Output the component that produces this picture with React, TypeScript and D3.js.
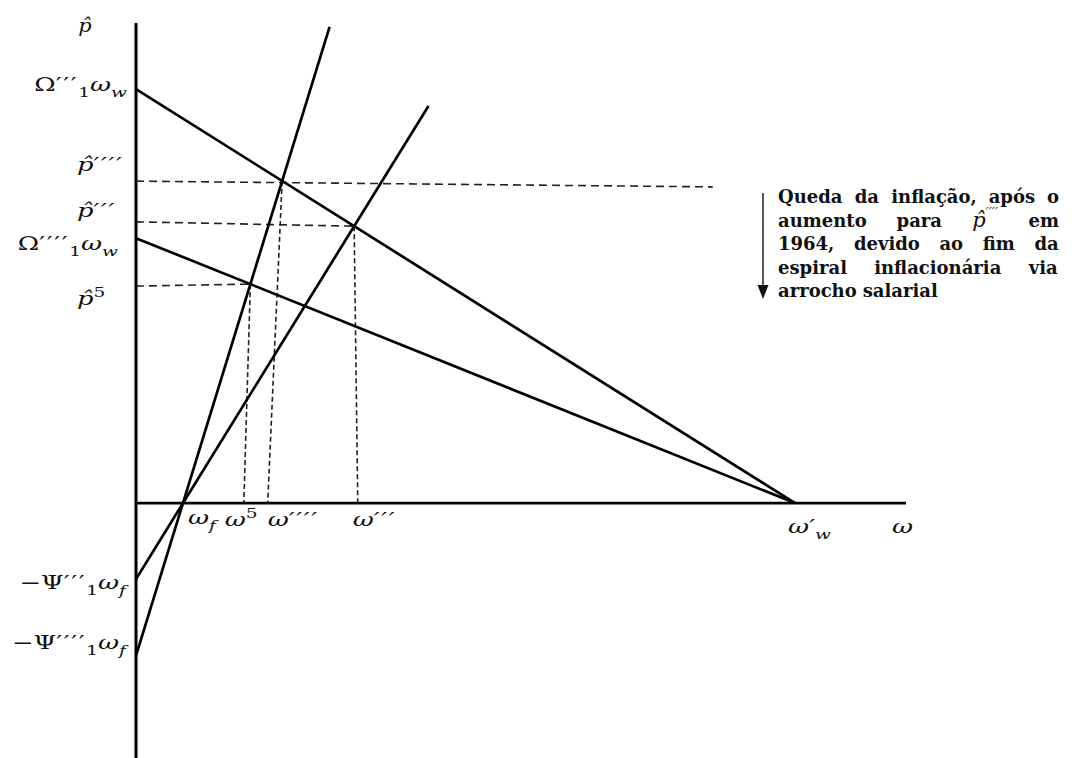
import React, { useEffect, useRef } from "react";
import * as d3 from "d3";

const W = 1075;
const H = 758;

// Model units for the two axes
const omegaDomain = [0, 100];
const pDomain = [-53.2, 100];

// Wage curves: p̂ = Ω·ω_w·(1 − ω/ω'_w)
const wageNames = ["Ω'''", "Ω''''"];
const wageIntercepts = [86.4, 55.3];
const omegaW = 85.6;

// Profit curves: p̂ = Ψ·(ω − ω_f)
const profitNames = ["Ψ'''", "Ψ''''"];
const profitSlopes = [2.6, 5.22];
const profitTops = [82.9, 99.4];
const omegaF = 6.1;

// Guide ticks on the axes
const pTickNames = ["p''''", "p'''", "p5"];
const pTickValues = [67.2, 58.7, 45.3];
const omegaTickNames = ["ω''''", "ω'''", "ω5"];
const omegaTickValues = [17.1, 28.8, 14.0];
// which wage / profit curve meets at each guide
const guideWage = [0, 0, 1];
const guideProfit = [1, 0, 1];
// the p̂'''' guide runs on towards the note
const longGuideEnd = [74.9, 66.0];

const noteLines = [
  "Queda da inflação, após o",
  "aumento para @ em",
  "1964, devido ao fim da",
  "espiral inflacionária via",
  "arrocho salarial",
];

type Part = { t: string; it?: boolean; sub?: boolean; sup?: boolean; pr?: boolean };

const P = "\u2032";
const HAT = "p\u0302";
const primes = (n: number) => P.repeat(n);

const LabelText = ({
  x,
  y,
  parts,
  anchor = "start",
  size = 19,
  sx = 1.36,
}: {
  x: number;
  y: number;
  parts: Part[];
  anchor?: string;
  size?: number;
  sx?: number;
}) => {
  let shift = 0;
  return (
    <g transform={`translate(${x},${y}) scale(${sx},1)`}>
      <text x={0} y={0} textAnchor={anchor} fontFamily="DejaVu Serif" fontSize={size} fill="#111">
        {parts.map((p, i) => {
          const target = p.sub ? 6 : p.sup ? -8 : 0;
          const dy = target - shift;
          shift = target;
          return (
            <tspan
              key={i}
              dy={dy}
              fontStyle={p.it ? "italic" : "normal"}
              fontSize={p.sub || p.sup ? size * 0.72 : size}
              letterSpacing={p.pr ? 1.2 : 0}
            >
              {p.t}
            </tspan>
          );
        })}
      </text>
    </g>
  );
};

function Note() {
  const ref = useRef<SVGGElement>(null);
  useEffect(() => {
    const g = d3.select(ref.current);
    g.selectAll("*").remove();
    const left = 778;
    const right = 1059;
    const top = 203;
    const lead = 23.5;
    noteLines.forEach((line, li) => {
      const words = line.split(" ");
      const nodes = words.map((w) => {
        const t = g
          .append("text")
          .attr("y", top + li * lead)
          .attr("font-family", "DejaVu Serif")
          .attr("font-weight", "bold")
          .attr("font-size", 18)
          .attr("fill", "#111");
        if (w === "@") {
          t.append("tspan")
            .attr("font-style", "italic")
            .attr("font-weight", "normal")
            .attr("font-size", 21)
            .text(HAT);
          t.append("tspan")
            .attr("font-weight", "normal")
            .attr("font-style", "italic")
            .attr("font-size", 12)
            .attr("letter-spacing", 0.5)
            .attr("dy", -10)
            .text(primes(4));
        } else {
          t.text(w);
        }
        return t;
      });
      const widths = nodes.map((n) => (n.node() as SVGTextElement).getBBox().width);
      const total = d3.sum(widths);
      const last = li === noteLines.length - 1;
      const gap = last || words.length < 2 ? 6 : (right - left - total) / (words.length - 1);
      let cx = left;
      nodes.forEach((n, i) => {
        n.attr("x", cx);
        n.selectAll("tspan").filter((_, k) => k === 0).attr("x", cx);
        cx += widths[i] + gap;
      });
    });
  }, []);
  return <g ref={ref} />;
}

export default function App() {
  const x = d3.scaleLinear().domain(omegaDomain).range([136, 906]);
  const y = d3.scaleLinear().domain(pDomain).range([758, 24]);
  const line = d3
    .line<[number, number]>()
    .x((d) => x(d[0]))
    .y((d) => y(d[1]));

  const wagePaths = wageIntercepts.map((c) =>
    line([
      [0, c],
      [omegaW, 0],
    ])
  );
  const profitPaths = profitSlopes.map((s, i) =>
    line([
      [0, -s * omegaF],
      [omegaF + profitTops[i] / s, profitTops[i]],
    ])
  );

  const meet = (wi: number, pi: number): [number, number] => {
    const c = wageIntercepts[wi];
    const s = profitSlopes[pi];
    const w = (c + s * omegaF) / (s + c / omegaW);
    return [w, s * (w - omegaF)];
  };
  const crossings = guideWage.map((wi, i) => meet(wi, guideProfit[i]));

  const hGuides = crossings.map((pt, i) =>
    i === 0
      ? line([[0, pTickValues[i]], longGuideEnd as [number, number]])
      : line([[0, pTickValues[i]], pt])
  );
  const vGuides = crossings.map((pt, i) => line([pt, [omegaTickValues[i], 0]]));

  const x0 = x(0);
  const y0 = y(0);

  const wageLabel = (n: number): Part[] => [
    { t: "Ω" },
    { t: primes(n), pr: true },
    { t: "1", sub: true },
    { t: "ω", it: true },
    { t: "w", it: true, sub: true },
  ];
  const profitLabel = (n: number): Part[] => [
    { t: "−Ψ" },
    { t: primes(n), pr: true },
    { t: "1", sub: true },
    { t: "ω", it: true },
    { t: "f", it: true, sub: true },
  ];

  return (
    <div style={{ position: "absolute", left: 0, top: 0 }}>
      <svg width={W} height={H} viewBox={`0 0 ${W} ${H}`} style={{ display: "block", background: "#fff" }}>
        {/* dashed guides */}
        {hGuides.map((d, i) => (
          <path key={"h" + i} d={d!} fill="none" stroke="#222" strokeWidth={1.6} strokeDasharray="8 5" />
        ))}
        {vGuides.map((d, i) => (
          <path key={"v" + i} d={d!} fill="none" stroke="#222" strokeWidth={1.6} strokeDasharray="5 3" />
        ))}

        {/* axes */}
        <line x1={x0} x2={x0} y1={y(100) - 1} y2={y(pDomain[0])} stroke="#000" strokeWidth={3} />
        <line x1={x0} x2={x(omegaDomain[1])} y1={y0} y2={y0} stroke="#000" strokeWidth={2.6} />

        {/* curves */}
        {wagePaths.map((d, i) => (
          <path key={"w" + i} d={d!} fill="none" stroke="#000" strokeWidth={2.7} data-name={wageNames[i]} />
        ))}
        {profitPaths.map((d, i) => (
          <path key={"p" + i} d={d!} fill="none" stroke="#000" strokeWidth={2.7} data-name={profitNames[i]} />
        ))}

        {/* vertical axis labels */}
        <LabelText x={85} y={y(100) + 8} anchor="middle" sx={1.1} parts={[{ t: HAT, it: true }]} />
        <LabelText x={127} y={y(wageIntercepts[0]) + 2} anchor="end" parts={wageLabel(3)} />
        <LabelText x={118} y={y(wageIntercepts[1]) + 12} anchor="end" parts={wageLabel(4)} />
        <LabelText x={77} y={y(pTickValues[0]) - 10} parts={[{ t: HAT, it: true }, { t: primes(4), it: true, pr: true }]} />
        <LabelText x={77} y={y(pTickValues[1]) - 5} parts={[{ t: HAT, it: true }, { t: primes(3), it: true, pr: true }]} />
        <LabelText x={77} y={y(pTickValues[2]) + 19} parts={[{ t: HAT, it: true }, { t: "5", sup: true }]} />
        <LabelText x={126} y={y(-profitSlopes[0] * omegaF) + 10} anchor="end" parts={profitLabel(3)} />
        <LabelText x={126} y={y(-profitSlopes[1] * omegaF) - 7} anchor="end" parts={profitLabel(4)} />

        {/* horizontal axis labels */}
        <LabelText x={x(omegaF) + 5} y={y0 + 21} parts={[{ t: "ω", it: true }, { t: "f", it: true, sub: true }]} />
        <LabelText x={x(omegaTickValues[2]) - 19} y={y0 + 23} parts={[{ t: "ω", it: true }, { t: "5", sup: true }]} />
        <LabelText x={x(omegaTickValues[0])} y={y0 + 23} parts={[{ t: "ω", it: true }, { t: primes(4), it: true, pr: true }]} />
        <LabelText x={x(omegaTickValues[1]) - 5} y={y0 + 23} parts={[{ t: "ω", it: true }, { t: primes(3), it: true, pr: true }]} />
        <LabelText
          x={x(omegaW) - 7}
          y={y0 + 30}
          parts={[{ t: "ω", it: true }, { t: P, it: true }, { t: "w", it: true, sub: true }]}
        />
        <LabelText x={x(omegaDomain[1]) - 14} y={y0 + 30} parts={[{ t: "ω", it: true }]} />

        {/* note with arrow */}
        <line x1={763} x2={763} y1={193} y2={288} stroke="#111" strokeWidth={1.4} />
        <path d="M757.5,285 L768.5,285 L763,299 Z" fill="#111" />
        <Note />
      </svg>
    </div>
  );
}
